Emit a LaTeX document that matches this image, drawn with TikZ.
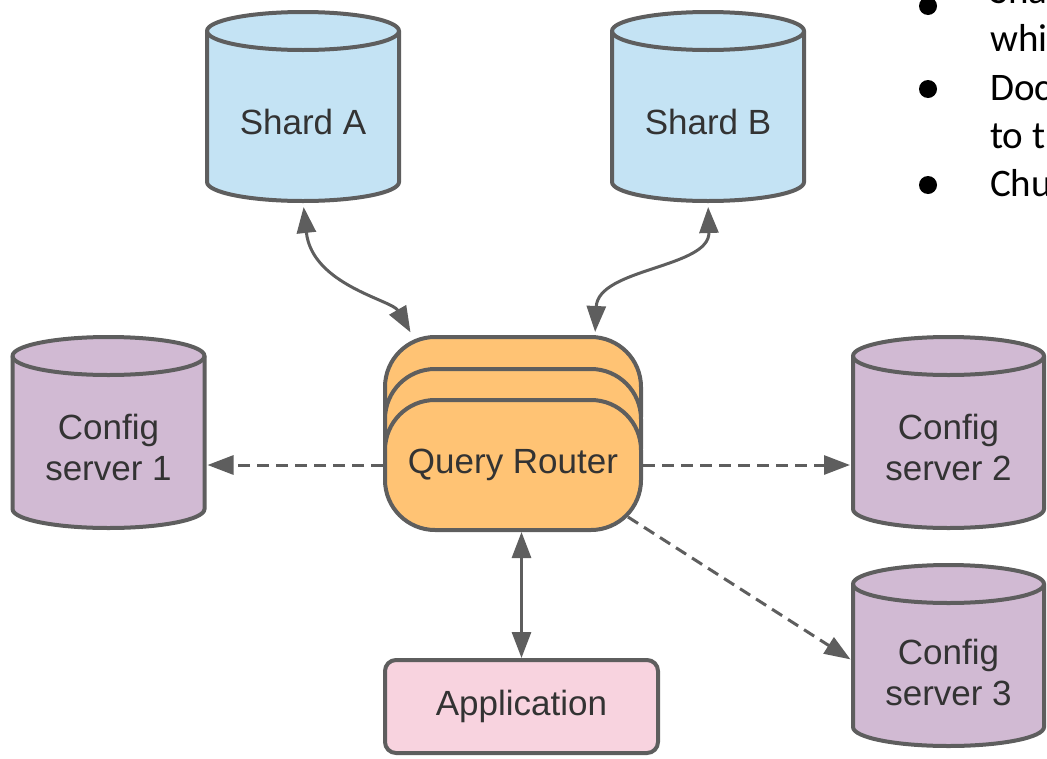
\documentclass[tikz,border=0pt]{standalone}
\usepackage{fontspec}
\setmainfont{Liberation Sans}
\newfontfamily\slidefont{Carlito}
\usetikzlibrary{arrows.meta,backgrounds,calc}

\definecolor{edgegray}{HTML}{5E5E5E}
\definecolor{labelgray}{HTML}{333333}
\definecolor{shardfill}{HTML}{C4E3F4}
\definecolor{configfill}{HTML}{D1BAD3}
\definecolor{routerfill}{HTML}{FFC374}
\definecolor{appfill}{HTML}{F8D3DF}

\newcommand\labelfont{\fontsize{35}{41}\selectfont}
\newcommand\bulletfont{\slidefont\fontsize{39}{47}\selectfont}

% cylinder outline around a named body node: the node's north edge is the
% centre line of the top ellipse, its south edge the lowest point of the base
\newcommand\drumpath[2]{%
  \path[outline, fill=#2] let \p1=(#1.north west), \p2=(#1.south east),
      \n1={(\x2-\x1)/2} in
    (\x1,\y1) -- (\x1,\y2+19pt)
    arc[start angle=180, end angle=360, x radius=\n1, y radius=19pt]
    -- (\x2,\y1)
    arc[start angle=0, end angle=180, x radius=\n1, y radius=19pt] -- cycle;
  \draw[outline] let \p1=(#1.north west), \p2=(#1.south east),
      \n1={(\x2-\x1)/2} in
    (\x1,\y1) arc[start angle=180, end angle=360, x radius=\n1, y radius=19pt];
}

\tikzset{
  outline/.style={draw=edgegray, line width=4pt},
  dbbody/.style={inner sep=0pt, outer sep=0pt},
  dblabel/.style={inner sep=0pt, text=labelgray, font=\labelfont, align=center},
  routerbox/.style={outline, fill=routerfill, rounded corners=50pt,
    minimum width=256pt, minimum height=130pt, inner sep=0pt, outer sep=2pt,
    text=labelgray, font=\labelfont},
  appbox/.style={outline, fill=appfill, rounded corners=11pt,
    minimum width=273pt, minimum height=93pt, inner sep=0pt, outer sep=2pt,
    text=labelgray, font=\labelfont},
  tip/.tip={Triangle[length=26pt, width=19pt]},
  link/.style={draw=edgegray, line width=3pt, -tip},
  twoway/.style={link, tip-tip},
  dashedlink/.style={link, dash pattern=on 12pt off 7pt},
  slidetext/.style={anchor=base west, inner sep=0pt, font=\bulletfont, text=black},
  bulletdot/.style={circle, fill=black, minimum size=18pt, inner sep=0pt},
}

\begin{document}
\begin{tikzpicture}[x=1pt, y=1pt]
  \useasboundingbox (0,0) rectangle (1047,-758);
  \clip (0,0) rectangle (1047,-758);

  % shards
  \node[dbbody, minimum width=192pt, minimum height=170pt] (shA) at (303,-116) {};
  \node[dbbody, minimum width=192pt, minimum height=170pt] (shB) at (708,-116) {};

  % config servers
  \node[dbbody, minimum width=192pt, minimum height=172pt] (cs1) at (108.5,-442) {};
  \node[dbbody, minimum width=191pt, minimum height=172pt] (cs2) at (948.5,-442) {};
  \node[dbbody, minimum width=191pt, minimum height=162pt] (cs3) at (948.5,-665) {};

  \drumpath{shA}{shardfill}
  \drumpath{shB}{shardfill}
  \drumpath{cs1}{configfill}
  \drumpath{cs2}{configfill}
  \drumpath{cs3}{configfill}

  \node[dblabel] (shAtext) at ([yshift=-6pt]shA.center) {Shard A};
  \node[dblabel] (shBtext) at ([yshift=-6pt]shB.center) {Shard B};
  \node[dblabel] (cs1text) at ([yshift=-5pt]cs1.center) {Config\\server 1};
  \node[dblabel] (cs2text) at ([yshift=-5pt]cs2.center) {Config\\server 2};
  \node[dblabel] (cs3text) at ([yshift=-7pt]cs3.center) {Config\\server 3};

  % stacked query routers
  \node[routerbox] (qrb1) at (513,-402) {};
  \node[routerbox] (qrb2) at (513,-434) {};
  \node[routerbox] (qr) at (513,-465) {Query Router};

  % application
  \node[appbox] (app) at (521.5,-706.5) {Application};

  % connectors
  \draw[twoway, shorten <=6pt, shorten >=3pt] (shA.south)
    .. controls (312,-285) and (392,-300) .. ([xshift=29pt]qrb1.north west);
  \draw[twoway, shorten <=6pt, shorten >=3pt] (shB.south)
    .. controls (710,-268) and (598,-268) .. ([xshift=-48pt]qrb1.north east);
  \draw[twoway] (app.north) -- (app.north |- qr.south);
  \draw[dashedlink, shorten >=3pt] (qr.west) -- (qr.west -| cs1.east);
  \draw[dashedlink, shorten >=3pt] (qr.east) -- (qr.east -| cs2.west);
  \draw[dashedlink, shorten >=3pt] ([shift={(-15pt,15pt)}]qr.south east)
    -- ([yshift=4pt]cs3.west);

  % slide text running in from the right
  \node[bulletdot] (dot1) at (928,-6) {};
  \node[slidetext] (frag1) at (990,-3) {Sha};
  \node[slidetext] (frag2) at (990,-51) {whi};
  \node[bulletdot] (dot2) at (928,-89) {};
  \node[slidetext] (frag3) at (990,-100) {Doc};
  \node[slidetext] (frag4) at (990,-148) {to t};
  \node[bulletdot] (dot3) at (928,-185) {};
  \node[slidetext] (frag5) at (990,-196) {Chu};
\end{tikzpicture}
\end{document}
